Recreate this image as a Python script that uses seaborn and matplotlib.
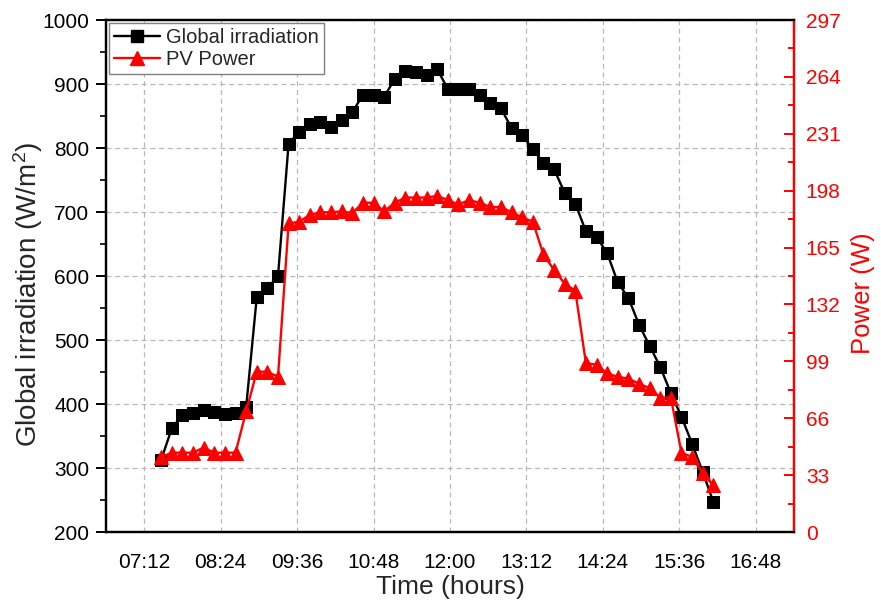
import matplotlib
matplotlib.use("Agg")
import matplotlib.pyplot as plt
from matplotlib.ticker import FixedLocator, MultipleLocator, FuncFormatter
from matplotlib.lines import Line2D
import seaborn as sns
import pandas as pd

times = ["07:28", "07:38", "07:48", "07:58", "08:08", "08:18", "08:28", "08:38", "08:48", "08:58",
         "09:08", "09:18", "09:28", "09:38", "09:48", "09:58", "10:08", "10:18", "10:28", "10:38",
         "10:48", "10:58", "11:08", "11:18", "11:28", "11:38", "11:48", "11:58", "12:08", "12:18",
         "12:28", "12:38", "12:48", "12:58", "13:08", "13:18", "13:28", "13:38", "13:48", "13:58",
         "14:08", "14:18", "14:28", "14:38", "14:48", "14:58", "15:08", "15:18", "15:28", "15:38",
         "15:48", "15:58", "16:08"]
irradiation = [313, 362, 383, 386, 391, 387, 385, 386, 395, 567,
               581, 600, 807, 825, 837, 841, 833, 844, 856, 883,
               883, 880, 908, 921, 918, 914, 923, 892, 892, 892,
               883, 870, 862, 831, 820, 798, 777, 767, 730, 713,
               670, 661, 636, 590, 566, 524, 491, 458, 417, 380,
               338, 294, 247]
pv_power = [43.5, 46, 46, 46, 49, 46, 46, 46, 70, 93,
            93, 90, 179, 180, 184, 185.5, 185.5, 186, 185, 191,
            191, 186, 191, 194, 194, 194, 195, 192.5, 190, 192.5,
            191, 188.5, 188.5, 185.5, 182.5, 180, 161, 152, 144, 140,
            98, 97, 92, 90, 89, 86, 83.5, 78, 78, 46,
            43.5, 34, 27]
x_tick_labels = ["07:12", "08:24", "09:36", "10:48", "12:00", "13:12", "14:24", "15:36", "16:48"]
left_ticks = [200, 300, 400, 500, 600, 700, 800, 900, 1000]
right_ticks = [0, 33, 66, 99, 132, 165, 198, 231, 264, 297]


def to_hours(s):
    h, m = s.split(":")
    return int(h) + int(m) / 60.0


df = pd.DataFrame({
    "t": [to_hours(s) for s in times],
    "irr": irradiation,
    "pv": pv_power,
})
xticks = [to_hours(s) for s in x_tick_labels]

sns.set_style("white")
plt.rcParams["font.family"] = ["Liberation Sans", "DejaVu Sans"]
plt.rcParams["mathtext.fontset"] = "custom"
plt.rcParams["mathtext.rm"] = "Liberation Sans"
plt.rcParams["mathtext.it"] = "Liberation Sans:italic"

fig = plt.figure(figsize=(8.81, 6.02), dpi=100)
ax = fig.add_axes([106 / 881, 1 - 532 / 602, (794 - 106) / 881, (532 - 20) / 602])
ax2 = ax.twinx()

sns.lineplot(data=df, x="t", y="irr", ax=ax, color="black", marker="s", markersize=8,
             markeredgecolor="black", linewidth=1.7, sort=False, legend=False)
sns.lineplot(data=df, x="t", y="pv", ax=ax2, color="#ff0000", marker="^", markersize=9.5,
             markeredgecolor="#ff0000", linewidth=1.7, sort=False, legend=False)

ax.set_xlim(6.6, 17.4)
ax.set_ylim(200, 1000)
ax2.set_ylim(0, 297)

ax.xaxis.set_major_locator(FixedLocator(xticks))
ax.xaxis.set_minor_locator(FixedLocator([v + 0.6 for v in [6.0] + xticks]))
ax.xaxis.set_major_formatter(FuncFormatter(
    lambda v, p: x_tick_labels[p] if p is not None and p < len(x_tick_labels) else ""))
ax.yaxis.set_major_locator(FixedLocator(left_ticks))
ax.yaxis.set_minor_locator(MultipleLocator(50))
ax2.yaxis.set_major_locator(FixedLocator(right_ticks))
ax2.yaxis.set_minor_locator(MultipleLocator(16.5))

ax.grid(True, which="major", linestyle=(0, (4, 3)), color="#b8b8b8", linewidth=0.9)

for a in (ax, ax2):
    for s in a.spines.values():
        s.set_linewidth(1.6)
        s.set_color("black")
ax2.spines["right"].set_color("#ff0000")

ax.tick_params(axis="both", which="major", direction="out", length=7, width=1.4,
               labelsize=15, colors="black")
ax.tick_params(axis="both", which="minor", direction="out", length=4, width=1.4)
ax.tick_params(axis="x", which="major", pad=8)
ax.tick_params(axis="y", which="major", pad=5)
ax2.tick_params(axis="y", which="major", direction="in", length=7.5, width=1.4,
                labelsize=15, colors="#ff0000", labelcolor="#ff0000", pad=8.5)
ax2.tick_params(axis="y", which="minor", direction="in", length=4.5, width=1.4, colors="#ff0000")

ax.set_xlabel("Time (hours)", fontsize=19, labelpad=2)
ax.set_ylabel("Global irradiation (W/m$^{2}$)", fontsize=20)
ax.yaxis.set_label_coords(-0.088, 0.465)
ax2.set_ylabel("Power (W)", fontsize=18.5, color="#ff0000")
ax2.yaxis.set_label_coords(1.083, 0.467)

handles = [
    Line2D([], [], color="black", marker="s", markersize=8, linewidth=1.7),
    Line2D([], [], color="#ff0000", marker="^", markersize=9.5, linewidth=1.7),
]
leg = ax2.legend(handles, ["Global irradiation", "PV Power"], loc="upper left",
                 bbox_to_anchor=(0.0, 1.0), borderaxespad=0.15, fontsize=14.5,
                 frameon=True, fancybox=False, handlelength=2.3, handletextpad=0.3,
                 labelspacing=0.15, borderpad=0.25)
leg.get_frame().set_edgecolor("#808080")
leg.get_frame().set_linewidth(1.0)
leg.get_frame().set_facecolor("white")
leg.get_frame().set_alpha(1.0)

fig.savefig("out.png", dpi=100)
